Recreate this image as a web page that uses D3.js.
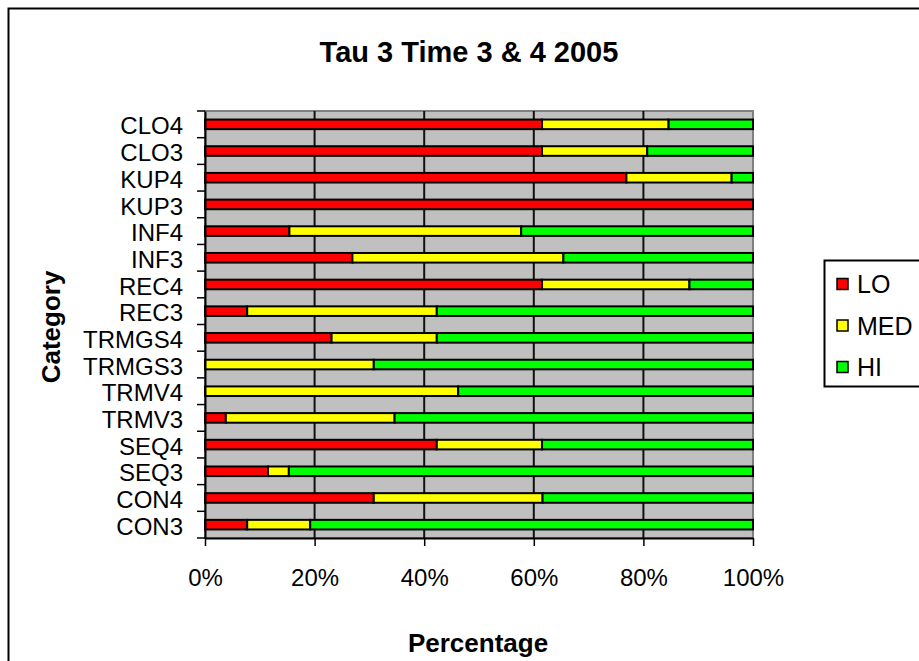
<!DOCTYPE html>
<html>
<head>
<meta charset="utf-8">
<script src="https://cdn.jsdelivr.net/npm/d3@7"></script>
<style>
  body { margin: 0; background: #fff; overflow: hidden; }
  text { font-family: Arial, "Liberation Sans", sans-serif; }
</style>
</head>
<body>
<div id="chart"></div>
<script>
// categories top to bottom
const categories = ["CLO4", "CLO3", "KUP4", "KUP3", "INF4", "INF3", "REC4", "REC3",
  "TRMGS4", "TRMGS3", "TRMV4", "TRMV3", "SEQ4", "SEQ3", "CON4", "CON3"];

// percentage per category
const lo  = [61.5, 61.5, 76.9, 100, 15.4, 26.9, 61.5, 7.7, 23.1, 0, 0, 3.8, 42.3, 11.5, 30.8, 7.7];
const med = [23.1, 19.2, 19.2, 0, 42.3, 38.5, 26.9, 34.6, 19.2, 30.8, 46.2, 30.8, 19.2, 3.8, 30.8, 11.5];
const hi  = [15.4, 19.3, 3.9, 0, 42.3, 34.6, 11.6, 57.7, 57.7, 69.2, 53.8, 65.4, 38.5, 84.7, 38.4, 80.8];

const seriesNames = ["LO", "MED", "HI"];
const seriesColors = ["#FF0000", "#FFFF00", "#00FF00"];
const xTicks = [0, 20, 40, 60, 80, 100];

const width = 919, height = 661;
const plot = {left: 205, right: 753, top: 111, bottom: 538};

const svg = d3.select("#chart").append("svg")
  .attr("width", width)
  .attr("height", height);

// outer chart border (right and bottom fall outside the picture)
svg.append("rect")
  .attr("x", 8.5).attr("y", 8.5)
  .attr("width", 1000).attr("height", 1000)
  .attr("fill", "white")
  .attr("stroke", "black")
  .attr("stroke-width", 2);

const x = d3.scaleLinear().domain([0, 100]).range([plot.left, plot.right]);
const y = d3.scaleBand().domain(categories).range([plot.top, plot.bottom]);

// plot area
svg.append("rect")
  .attr("x", plot.left).attr("y", plot.top)
  .attr("width", plot.right - plot.left)
  .attr("height", plot.bottom - plot.top)
  .attr("fill", "#C0C0C0")
  .attr("stroke", "#808080")
  .attr("stroke-width", 2);

// grid lines
svg.append("g").selectAll("line")
  .data(xTicks.slice(1, -1))
  .enter().append("line")
  .attr("x1", d => x(d)).attr("x2", d => x(d))
  .attr("y1", plot.top).attr("y2", plot.bottom)
  .attr("stroke", "#111")
  .attr("stroke-width", 2);

// stacked data
const rows = categories.map((c, i) => ({cat: c, LO: lo[i], MED: med[i], HI: hi[i]}));
const stack = d3.stack().keys(seriesNames)(rows);

const barH = y.bandwidth() * 0.36;
svg.append("g").selectAll("g")
  .data(stack)
  .enter().append("g")
  .attr("fill", (d, i) => seriesColors[i])
  .selectAll("rect")
  .data(d => d.filter(p => p[1] - p[0] > 0))
  .enter().append("rect")
  .attr("x", d => x(d[0]))
  .attr("width", d => x(d[1]) - x(d[0]))
  .attr("y", d => y(d.data.cat) + (y.bandwidth() - barH) / 2)
  .attr("height", barH)
  .attr("stroke", "black")
  .attr("stroke-width", 2);

// x axis
const xAxis = svg.append("g")
  .attr("transform", "translate(0," + plot.bottom + ")")
  .call(d3.axisBottom(x).tickValues(xTicks).tickFormat(d => d + "%").tickSize(8).tickSizeOuter(0).tickPadding(23));
xAxis.select(".domain").attr("stroke-width", 2);
xAxis.selectAll(".tick line").attr("stroke-width", 1.5);
xAxis.selectAll("text").attr("font-size", "24px").attr("fill", "black");

// y axis
const yAxis = svg.append("g")
  .attr("transform", "translate(" + plot.left + ",0)")
  .call(d3.axisLeft(y).tickSize(0).tickPadding(22));
yAxis.select(".domain").attr("stroke-width", 2);
yAxis.selectAll("text").attr("font-size", "24px").attr("fill", "black").attr("dy", "0.42em");

// category ticks sit on band boundaries
svg.append("g").selectAll("line")
  .data(d3.range(categories.length + 1))
  .enter().append("line")
  .attr("x1", plot.left - 8).attr("x2", plot.left)
  .attr("y1", i => plot.top + i * y.step())
  .attr("y2", i => plot.top + i * y.step())
  .attr("stroke", "black")
  .attr("stroke-width", 1.5);

// titles
svg.append("text")
  .attr("x", 469).attr("y", 62)
  .attr("text-anchor", "middle")
  .attr("font-size", "29px").attr("font-weight", "bold")
  .text("Tau 3 Time 3 & 4 2005");

svg.append("text")
  .attr("x", 478).attr("y", 652)
  .attr("text-anchor", "middle")
  .attr("font-size", "26px").attr("font-weight", "bold")
  .text("Percentage");

svg.append("text")
  .attr("transform", "translate(60,327) rotate(-90)")
  .attr("text-anchor", "middle")
  .attr("font-size", "26px").attr("font-weight", "bold")
  .text("Category");

// legend
const legend = svg.append("g");
legend.append("rect")
  .attr("x", 824.5).attr("y", 260.5)
  .attr("width", 200).attr("height", 126)
  .attr("fill", "white")
  .attr("stroke", "black")
  .attr("stroke-width", 2);

const items = legend.selectAll("g.item")
  .data(seriesNames)
  .enter().append("g")
  .attr("class", "item")
  .attr("transform", (d, i) => "translate(0," + (284 + i * 41.5) + ")");
items.append("rect")
  .attr("x", 837).attr("y", -5.5)
  .attr("width", 11).attr("height", 11)
  .attr("fill", (d, i) => seriesColors[i])
  .attr("stroke", "black")
  .attr("stroke-width", 1.5);
items.append("text")
  .attr("x", 857).attr("y", 9)
  .attr("font-size", "25px")
  .text(d => d);
</script>
</body>
</html>
